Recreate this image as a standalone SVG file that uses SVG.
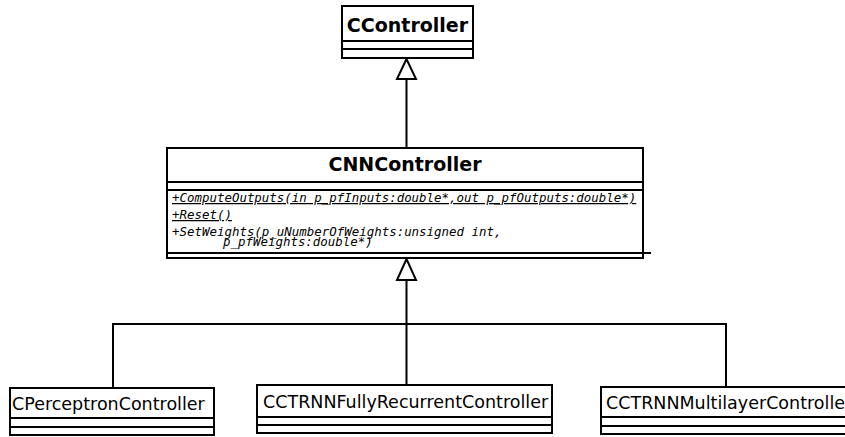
<svg xmlns="http://www.w3.org/2000/svg" width="845" height="437" viewBox="0 0 845 437">
  <style>
    .box { fill: #ffffff; stroke: #000000; stroke-width: 2; }
    .sep { stroke: #000000; stroke-width: 2; fill: none; }
    .edge { stroke: #000000; stroke-width: 2; fill: none; }
    .head { fill: #ffffff; stroke: #000000; stroke-width: 2; stroke-linejoin: miter; }
    .title { font-family: "DejaVu Sans", "Liberation Sans", sans-serif; font-weight: bold; font-size: 19px; fill: #000000; }
    .name { font-family: "DejaVu Sans", "Liberation Sans", sans-serif; font-size: 17.5px; fill: #000000; }
    .op { font-family: "DejaVu Sans Mono", "Liberation Mono", monospace; font-style: italic; font-size: 12.45px; fill: #000000; }
    .static { text-decoration: underline; }
  </style>
  <rect width="845" height="437" fill="#ffffff"/>

  <!-- generalization connectors -->
  <g id="connectors">
    <line class="edge" x1="406.5" y1="79" x2="406.5" y2="148"/>
    <polygon class="head" points="406.5,59 397,79 416,79"/>
    <line class="edge" x1="406.5" y1="280" x2="406.5" y2="385"/>
    <polyline class="edge" points="113,388 113,324 726,324 726,387"/>
    <polygon class="head" points="406.5,259 397,280 416,280"/>
  </g>

  <g id="CController">
    <rect class="box" x="342" y="6" width="131" height="52"/>
    <line class="sep" x1="342" y1="41" x2="473" y2="41"/>
    <line class="sep" x1="342" y1="49" x2="473" y2="49"/>
    <text class="title" x="407.5" y="32" text-anchor="middle">CController</text>
  </g>

  <g id="CNNController">
    <rect class="box" x="167" y="148" width="476" height="110"/>
    <line class="sep" x1="167" y1="182" x2="643" y2="182"/>
    <line class="sep" x1="167" y1="190" x2="643" y2="190"/>
    <line class="sep" x1="167" y1="253" x2="651" y2="253"/>
    <text class="title" x="405" y="171" text-anchor="middle">CNNController</text>
    <text class="op static" x="172" y="202">+ComputeOutputs(in p_pfInputs:double*,out p_pfOutputs:double*)</text>
    <text class="op static" x="172" y="219">+Reset()</text>
    <text class="op" x="172" y="236">+SetWeights(p_uNumberOfWeights:unsigned int,</text>
    <text class="op" x="223" y="246">p_pfWeights:double*)</text>
  </g>

  <g id="CPerceptronController">
    <rect class="box" x="10" y="388" width="204" height="47"/>
    <line class="sep" x1="10" y1="418" x2="214" y2="418"/>
    <line class="sep" x1="10" y1="427" x2="214" y2="427"/>
    <text class="name" x="12" y="410">CPerceptronController</text>
  </g>

  <g id="CCTRNNFullyRecurrentController">
    <rect class="box" x="257" y="385" width="295" height="48"/>
    <line class="sep" x1="257" y1="417" x2="552" y2="417"/>
    <line class="sep" x1="257" y1="425" x2="552" y2="425"/>
    <text class="name" x="263" y="408">CCTRNNFullyRecurrentController</text>
  </g>

  <g id="CCTRNNMultilayerController">
    <rect class="box" x="601" y="387" width="256" height="47"/>
    <line class="sep" x1="601" y1="417" x2="857" y2="417"/>
    <line class="sep" x1="601" y1="426" x2="857" y2="426"/>
    <text class="name" x="606" y="409">CCTRNNMultilayerController</text>
  </g>
</svg>
